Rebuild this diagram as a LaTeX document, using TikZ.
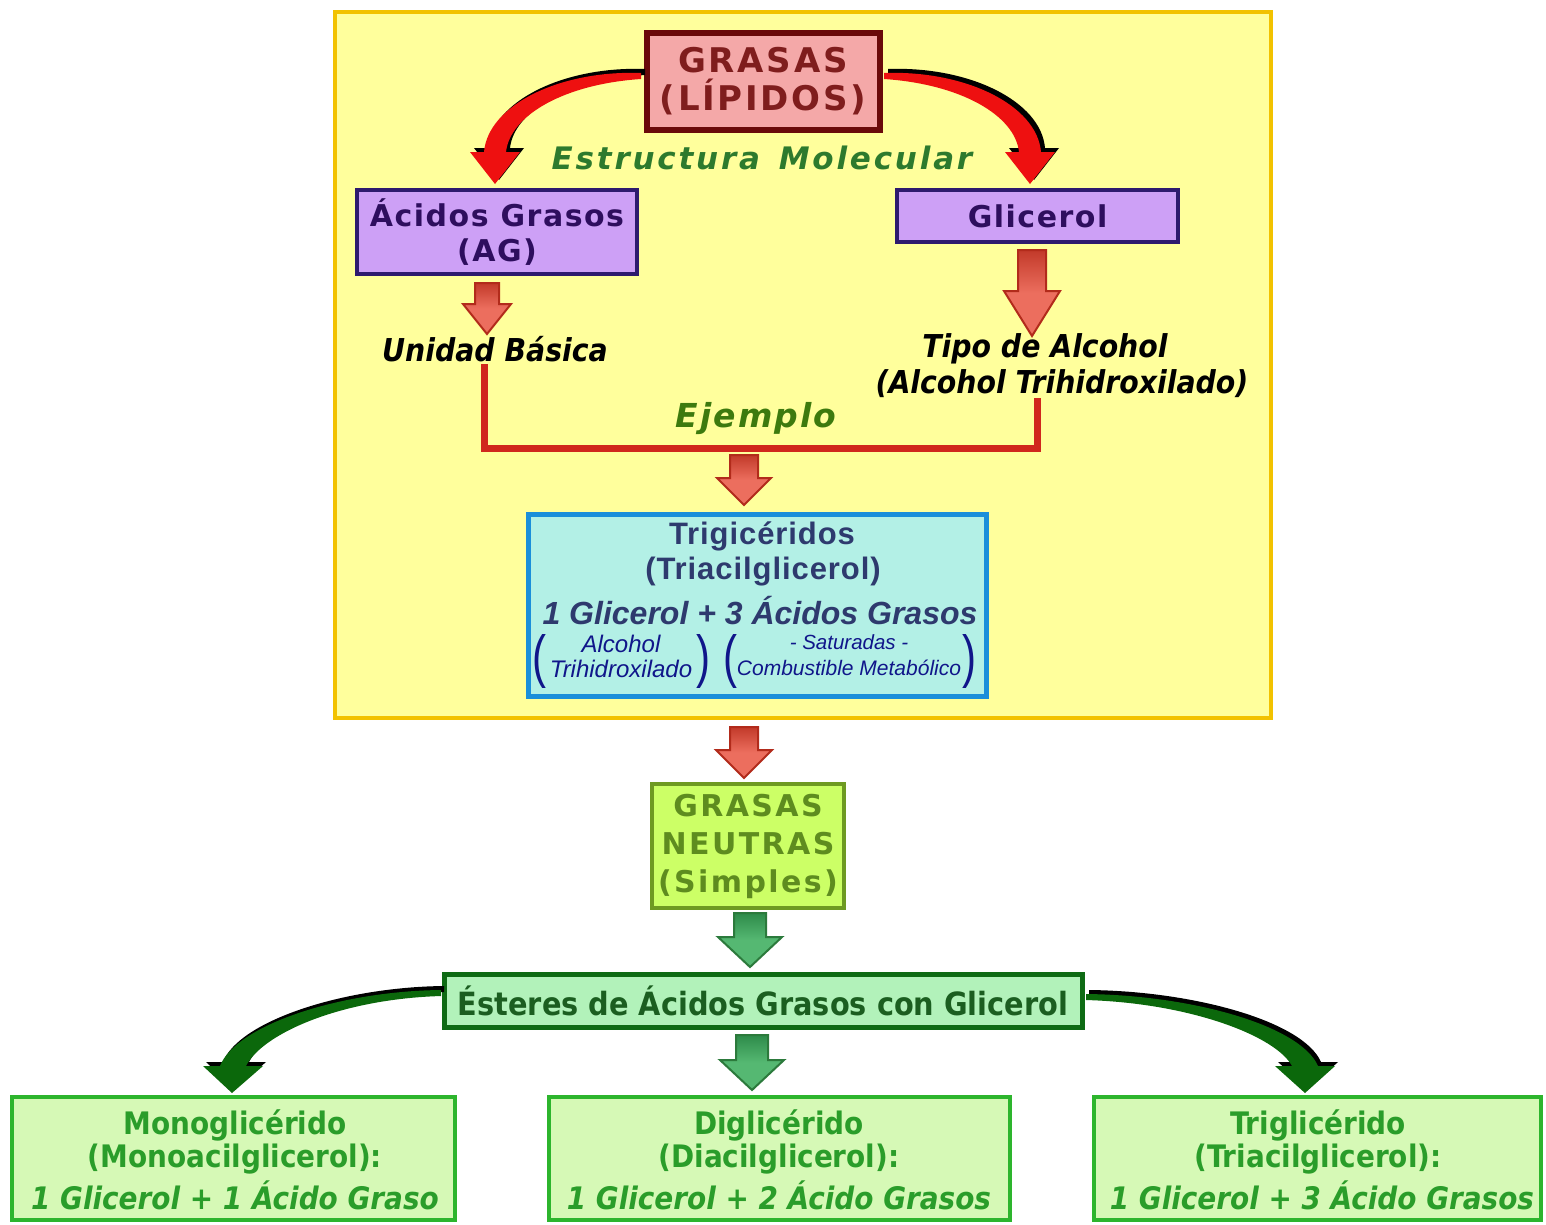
\documentclass[tikz,border=0pt]{standalone}
\usepackage{fontspec}
\usetikzlibrary{calc}
\setmainfont{DejaVu Sans}
\newfontfamily\arl{Liberation Sans}
\newfontfamily\cnd{DejaVuSansCondensed-Bold.ttf}
\newfontfamily\cndi{DejaVuSansCondensed-BoldOblique.ttf}
\newcommand\setfs[2]{\fontsize{#1}{#2}\selectfont}
\newcommand\track[1]{\addfontfeature{LetterSpace=#1}}

\definecolor{frameFill}{HTML}{FFFF9C}
\definecolor{frameLine}{HTML}{F2C200}
\definecolor{pinkFill}{HTML}{F4A8A8}
\definecolor{maroon}{HTML}{6A0A0A}
\definecolor{maroonTxt}{HTML}{7F1D1D}
\definecolor{lavFill}{HTML}{CDA0F6}
\definecolor{navyLine}{HTML}{2E1A6E}
\definecolor{navyTxt}{HTML}{2E0E5E}
\definecolor{molGreen}{HTML}{2D7A2D}
\definecolor{ejGreen}{HTML}{3D7A0E}
\definecolor{brRed}{HTML}{D0271D}
\definecolor{arrTop}{HTML}{C23A2A}
\definecolor{arrFill}{HTML}{EC6E5E}
\definecolor{arrLine}{HTML}{B22B1B}
\definecolor{aquaFill}{HTML}{B3F0E6}
\definecolor{aquaLine}{HTML}{1A8FDA}
\definecolor{slateTxt}{HTML}{2E3A6E}
\definecolor{smallTxt}{HTML}{10168A}
\definecolor{limeFill}{HTML}{CCFF66}
\definecolor{oliveLine}{HTML}{6E9A22}
\definecolor{oliveTxt}{HTML}{5E8C1F}
\definecolor{gArrTop}{HTML}{2E8B4A}
\definecolor{gArrFill}{HTML}{55B872}
\definecolor{gArrLine}{HTML}{2C7A3C}
\definecolor{estFill}{HTML}{B2F2BA}
\definecolor{estLine}{HTML}{0E6B14}
\definecolor{estTxt}{HTML}{1B5E20}
\definecolor{botFill}{HTML}{D6F9B6}
\definecolor{botLine}{HTML}{2DB52D}
\definecolor{botTxt}{HTML}{2A9D2A}
\definecolor{curveRed}{HTML}{EE1010}
\definecolor{curveGreen}{HTML}{0B680B}

% downward block arrow: style, from, to, shaft half width, head half width, head length
\newcommand\blockdown[6]{%
  \path[#1] let \p1=(#2), \p2=(#3) in
    ({\x1-#4pt},\y1) -- ({\x1+#4pt},\y1) -- ({\x1+#4pt},{\y2+#6pt})
    -- ({\x1+#5pt},{\y2+#6pt}) -- (\x1,\y2) -- ({\x1-#5pt},{\y2+#6pt})
    -- ({\x1-#4pt},{\y2+#6pt}) -- cycle;}

\tikzset{
  box/.style={draw, inner sep=0pt, align=center},
  redblock/.style={top color=arrTop, bottom color=arrFill, middle color=arrFill,
    draw=arrLine, line width=2pt, line join=miter},
  greenblock/.style={top color=gArrTop, bottom color=gArrFill, middle color=gArrFill,
    draw=gArrLine, line width=2pt, line join=miter},
  botbox/.style={box, fill=botFill, draw=botLine, line width=4pt,
    minimum height=123pt, text=botTxt},
  bottxt/.style={text=botTxt, inner sep=0pt},
  blacktxt/.style={font=\cndi\setfs{31.5}{34}, inner sep=0pt},
  paren/.style={font=\arl\setfs{42}{42}, yscale=1.38, inner sep=0pt},
}

\begin{document}
\begin{tikzpicture}[x=1pt, y=-1pt]
\useasboundingbox (0,0) rectangle (1546,1224);
\fill[white] (0,0) rectangle (1546,1224);

% outer frame
\node[box, fill=frameFill, draw=frameLine, line width=4pt,
  minimum width=936pt, minimum height=706pt] (frame) at (803,365) {};

% top node
\node[box, fill=pinkFill, draw=maroon, line width=6pt,
  minimum width=233pt, minimum height=97pt, text=maroonTxt,
  font=\bfseries\setfs{34}{38}\track{8}] (grasas) at (763,81.5)
  {GRASAS\\(LÍPIDOS)};

% curved arrows from the top node (shadow first)
\begin{scope}[shift={(4,-4)}]
\fill[black] (641,73) .. controls (560,70) and (488,105) .. (484,152)
  -- (470,152) -- (495,184) -- (520,152) -- (506,152)
  .. controls (510,115) and (565,84) .. (641,79) -- cycle;
\fill[black] (884,73) .. controls (965,70) and (1037,105) .. (1041,152)
  -- (1055,152) -- (1030,184) -- (1005,152) -- (1019,152)
  .. controls (1015,115) and (960,84) .. (884,79) -- cycle;
\end{scope}
\fill[curveRed] (641,73) .. controls (560,70) and (488,105) .. (484,152)
  -- (470,152) -- (495,184) -- (520,152) -- (506,152)
  .. controls (510,115) and (565,84) .. (641,79) -- cycle;
\fill[curveRed] (884,73) .. controls (965,70) and (1037,105) .. (1041,152)
  -- (1055,152) -- (1030,184) -- (1005,152) -- (1019,152)
  .. controls (1015,115) and (960,84) .. (884,79) -- cycle;

\node[text=molGreen, font=\bfseries\itshape\setfs{31}{34}\track{9}, inner sep=0pt]
  (molec) at (762,158) {Estructura\, Molecular};

% second level
\node[box, fill=lavFill, draw=navyLine, line width=4pt,
  minimum width=280pt, minimum height=84pt, text=navyTxt,
  font=\bfseries\setfs{30}{35}\track{5}] (ag) at (497,232) {Ácidos Grasos\\(AG)};
\node[box, fill=lavFill, draw=navyLine, line width=4pt,
  minimum width=281pt, minimum height=52pt, text=navyTxt,
  font=\bfseries\setfs{30}{35}\track{5}] (gl) at (1037.5,216) {Glicerol};

\node[blacktxt] (ub) at (495,349) {Unidad Básica};
\node[blacktxt] (tipo) at (1045,349) {Tipo de Alcohol};
\node[blacktxt] (tipo2) at (1062,384) {(Alcohol Trihidroxilado)};

\coordinate (agA) at (487,283);  \coordinate (ubA) at (487,334);
\coordinate (glA) at (1032,250); \coordinate (tiA) at (1032,336);
\blockdown{redblock}{agA}{ubA}{12}{24}{30}
\blockdown{redblock}{glA}{tiA}{14}{28}{45}

% joining bracket
\coordinate (ubfoot) at (484,364);
\coordinate (tafoot) at (1037,398);
\coordinate (brL) at (484,448);
\coordinate (brR) at (1037,448);
\draw[brRed, line width=7pt, line join=miter] (ubfoot) -- (brL) -- (brR) -- (tafoot);
\node[text=ejGreen, font=\bfseries\itshape\setfs{33}{34}\track{6}, inner sep=0pt]
  (ej) at (756,419) {Ejemplo};

\coordinate (brA) at (744,455); \coordinate (trA) at (744,505);
\blockdown{redblock}{brA}{trA}{14}{27}{27}

% triglyceride node
\node[box, fill=aquaFill, draw=aquaLine, line width=5pt,
  minimum width=458pt, minimum height=182pt] (trig) at (757.5,605.5) {};
\node[text=slateTxt, font=\arl\bfseries\setfs{31}{34}\track{3}, inner sep=0pt]
  (t1) at (762,536) {Trigicéridos};
\node[text=slateTxt, font=\arl\bfseries\setfs{31}{34}\track{3}, inner sep=0pt]
  (t2) at (763,572) {(Triacilglicerol)};
\node[text=slateTxt, font=\arl\bfseries\itshape\setfs{32}{34}, inner sep=0pt]
  (t3) at (760,611) {1 Glicerol + 3 Ácidos Grasos};
\begin{scope}[text=smallTxt, inner sep=0pt]
\node[font=\arl\itshape\setfs{24}{26}] (s1) at (621,644) {Alcohol};
\node[font=\arl\itshape\setfs{24}{26}] (s2) at (621,669) {Trihidroxilado};
\node[font=\arl\itshape\setfs{20.5}{24}] (s3) at (849,642) {- Saturadas -};
\node[font=\arl\itshape\setfs{21}{24}] (s4) at (849,668) {Combustible Metabólico};
\node[paren] (p1) at (539,661) {(};
\node[paren] (p2) at (703,661) {)};
\node[paren] (p3) at (730,661) {(};
\node[paren] (p4) at (969,661) {)};
\end{scope}

\coordinate (frA) at (744,727); \coordinate (neA) at (744,778);
\blockdown{redblock}{frA}{neA}{14}{28}{28}

% neutral fats
\node[box, fill=limeFill, draw=oliveLine, line width=4pt,
  minimum width=192pt, minimum height=124pt, text=oliveTxt,
  font=\bfseries\setfs{30}{38}\track{8}] (neutras) at (748,846)
  {GRASAS\\NEUTRAS\\(Simples)};

\coordinate (nuA) at (750,913); \coordinate (esA) at (750,967);
\blockdown{greenblock}{nuA}{esA}{16}{32}{30}

% esters
\node[box, fill=estFill, draw=estLine, line width=5pt,
  minimum width=638pt, minimum height=53pt, text=estTxt,
  font=\cnd\setfs{32}{34}] (est) at (763,1001)
  {Ésteres de Ácidos Grasos con Glicerol};

\coordinate (esB) at (752,1035); \coordinate (diA) at (752,1090);
\blockdown{greenblock}{esB}{diA}{16}{32}{30}

% curved green arrows (shadow first)
\begin{scope}[shift={(3,-4)}]
\fill[black] (441,990) .. controls (340,991) and (236,1025) .. (220,1066)
  -- (203,1066) -- (232,1093) -- (263,1066) -- (246,1066)
  .. controls (262,1034) and (340,999) .. (441,996) -- cycle;
\fill[black] (1086,994) .. controls (1190,995) and (1300,1025) .. (1318,1066)
  -- (1335,1066) -- (1305,1093) -- (1275,1066) -- (1292,1066)
  .. controls (1276,1036) and (1190,1003) .. (1086,1000) -- cycle;
\end{scope}
\fill[curveGreen] (441,990) .. controls (340,991) and (236,1025) .. (220,1066)
  -- (203,1066) -- (232,1093) -- (263,1066) -- (246,1066)
  .. controls (262,1034) and (340,999) .. (441,996) -- cycle;
\fill[curveGreen] (1086,994) .. controls (1190,995) and (1300,1025) .. (1318,1066)
  -- (1335,1066) -- (1305,1093) -- (1275,1066) -- (1292,1066)
  .. controls (1276,1036) and (1190,1003) .. (1086,1000) -- cycle;

% bottom row
\node[botbox, minimum width=443pt] (mono) at (233.5,1158.5) {};
\node[botbox, minimum width=461pt] (di) at (779.5,1158.5) {};
\node[botbox, minimum width=447pt] (tri) at (1317.5,1158.5) {};

\node[bottxt, font=\cnd\setfs{31}{34}] (m1) at (235,1125) {Monoglicérido};
\node[bottxt, font=\cnd\setfs{31}{34}] (m2) at (235,1159) {(Monoacilglicerol):};
\node[bottxt, font=\cndi\setfs{31}{34}] (m3) at (235,1195) {1 Glicerol + 1 Ácido Graso};
\node[bottxt, font=\cnd\setfs{31}{34}] (d1) at (779,1125) {Diglicérido};
\node[bottxt, font=\cnd\setfs{31}{34}] (d2) at (779,1159) {(Diacilglicerol):};
\node[bottxt, font=\cndi\setfs{31}{34}] (d3) at (779,1195) {1 Glicerol + 2 Ácido Grasos};
\node[bottxt, font=\cnd\setfs{31}{34}] (r1) at (1318,1125) {Triglicérido};
\node[bottxt, font=\cnd\setfs{31}{34}] (r2) at (1318,1159) {(Triacilglicerol):};
\node[bottxt, font=\cndi\setfs{31}{34}] (r3) at (1322,1195) {1 Glicerol + 3 Ácido Grasos};
\end{tikzpicture}
\end{document}
